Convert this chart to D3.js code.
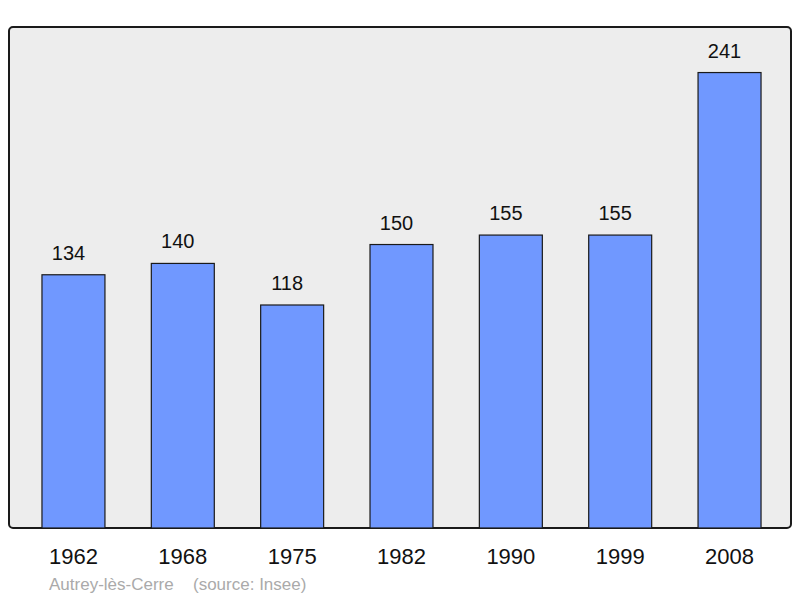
<!DOCTYPE html>
<html>
<head>
<meta charset="utf-8">
<script src="https://cdn.jsdelivr.net/npm/d3@7"></script>
<style>
  body { margin: 0; background: #fff; }
  svg { display: block; font-family: "Liberation Sans", Arial, sans-serif; }
</style>
</head>
<body>
<div id="chart"></div>
<script>
const years = ['1962', '1968', '1975', '1982', '1990', '1999', '2008'];
const population = [134, 140, 118, 150, 155, 155, 241];
const townName = 'Autrey-lès-Cerre';
const sourceNote = '(source: Insee)';

function drawChart() {
    const width = 800;
    const height = 598;
    const frame = { left: 9, right: 791, top: 27, bottom: 528 };

    const svg = d3.select('#chart').append('svg')
      .attr('width', width)
      .attr('height', height);

    svg.append('rect')
      .attr('x', frame.left)
      .attr('y', frame.top)
      .attr('width', frame.right - frame.left)
      .attr('height', frame.bottom - frame.top)
      .attr('rx', 4)
      .attr('fill', '#ededed')
      .attr('stroke', '#1a1a1a')
      .attr('stroke-width', 2);

    const x = d3.scaleBand()
      .domain(years)
      .range([20.1, 782.9])
      .paddingInner(0.424)
      .paddingOuter(0.2);

    const y = d3.scaleLinear()
      .domain([0, d3.max(population) * 1.1])
      .range([frame.bottom, frame.top]);

    const data = years.map((year, i) => ({ year: year, value: population[i] }));

    svg.selectAll('.bar')
      .data(data)
      .enter().append('rect')
      .attr('class', 'bar')
      .attr('x', d => x(d.year))
      .attr('y', d => y(d.value))
      .attr('width', x.bandwidth())
      .attr('height', d => frame.bottom - y(d.value))
      .attr('fill', '#7098ff')
      .attr('stroke', '#1a1a1a')
      .attr('stroke-width', 1.2);

    // value labels sit a little left of the bar centre in the original
    svg.selectAll('.value')
      .data(data)
      .enter().append('text')
      .attr('class', 'value')
      .attr('x', d => x(d.year) + x.bandwidth() / 2 - 5)
      .attr('y', d => y(d.value) - 15)
      .attr('text-anchor', 'middle')
      .attr('font-size', 20)
      .attr('fill', '#111')
      .text(d => d.value);

    const xAxis = svg.append('g')
      .attr('transform', `translate(0,${frame.bottom})`)
      .call(d3.axisBottom(x).tickSize(0).tickPadding(0));
    xAxis.select('.domain').remove();
    xAxis.selectAll('text')
      .attr('dy', null)
      .attr('y', 36)
      .attr('font-size', 22)
      .attr('font-family', '"Liberation Sans", Arial, sans-serif')
      .attr('fill', '#111');

    svg.append('text')
      .attr('x', 49)
      .attr('y', 590)
      .attr('font-size', 17)
      .attr('fill', '#aaaaaa')
      .text(townName);

    svg.append('text')
      .attr('x', 193)
      .attr('y', 590)
      .attr('font-size', 17)
      .attr('fill', '#aaaaaa')
      .text(sourceNote);
}

drawChart();
</script>
</body>
</html>
